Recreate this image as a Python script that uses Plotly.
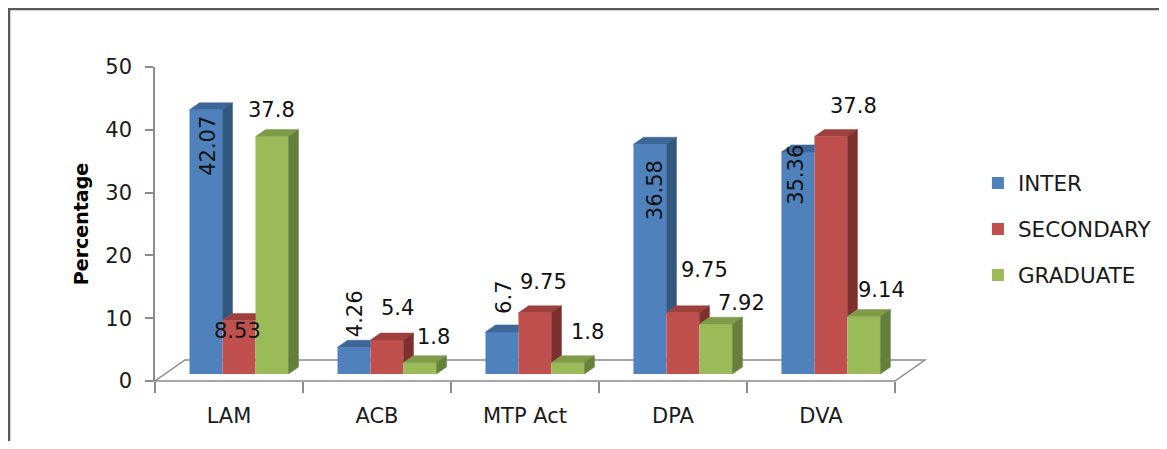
import plotly.graph_objects as go

# ---------------- data ----------------
categories = ["LAM", "ACB", "MTP Act", "DPA", "DVA"]
series_names = ["INTER", "SECONDARY", "GRADUATE"]
inter = [42.07, 4.26, 6.7, 36.58, 35.36]
secondary = [8.53, 5.4, 9.75, 9.75, 37.8]
graduate = [37.8, 1.8, 1.8, 7.92, 9.14]
y_ticks = [0, 10, 20, 30, 40, 50]

# ---------------- styles ----------------
FRONT = ["#4F81BD", "#C0504D", "#9BBB59"]
TOP = ["#3D6699", "#9E403D", "#7E9B47"]
SIDE = ["#33587F", "#7D302E", "#65803A"]
FONT = "DejaVu Sans"
AXIS_GRAY = "#8C8C8C"

# label offsets (px) relative to each bar's front-top centre: (xshift, yshift)
LABEL_OFF = [
    [(2, -36), (1, 34), (2, 35), (5, -46), (-2, -23)],
    [(-1, -11), (11, 32), (9, 31), (22, 43), (23, 31)],
    [(0, 27), (14, 26), (20, 31), (26, 21), (18, 27)],
]
LABEL_ANGLE = [-90, 0, 0]

# geometry (figure px; page has an 8px body margin)
OFF = 8
W_PX, H_PX = 1151, 433
L_M, T_M = 155 - OFF, 67 - OFF
PLOT_BOTTOM = 381 - OFF
B_M = H_PX - PLOT_BOTTOM
PX_PER_CAT = 148
XMIN, XMAX = -0.5, 4.71
YMIN, YMAX = 0, 50
plot_w = (XMAX - XMIN) * PX_PER_CAT
plot_h = PLOT_BOTTOM - T_M
R_M = W_PX - L_M - plot_w
ypx = plot_h / (YMAX - YMIN)

DX = 10 / PX_PER_CAT          # oblique depth of a bar
DY = 7 / ypx
BASE = DY                     # bars stand 1/3 deep on the floor
SX = 10 / PX_PER_CAT
BW = 33 / PX_PER_CAT          # bar width
FX = 30 / PX_PER_CAT          # floor depth
FY = 21 / ypx


def xp(x):
    return (x - XMIN) / (XMAX - XMIN)


def yp(y):
    return (y - YMIN) / (YMAX - YMIN)


def ppx(ref_px):
    return (ref_px - OFF - L_M) / plot_w


def ppy(ref_py):
    return (PLOT_BOTTOM - (ref_py - OFF)) / plot_h


values = [inter, secondary, graduate]
fig = go.Figure()

# front faces as bars
for j, name in enumerate(series_names):
    xs = [i + SX + (j - 1) * BW for i in range(len(categories))]
    fig.add_trace(go.Bar(
        x=xs, y=values[j], base=[BASE] * len(xs), width=BW,
        name=name, legendgroup=name,
        marker=dict(color=FRONT[j], line=dict(width=0)),
        hoverinfo="skip",
    ))

# top and side faces
for i in range(len(categories)):
    for j in range(3):
        v = values[j][i]
        xc = i + SX + (j - 1) * BW
        xl, xr = xc - BW / 2, xc + BW / 2
        T = v + BASE
        vn = values[j + 1][i] if j < 2 else None
        if vn is not None and vn > v:
            tx = [xl, xr, xr, xl + DX, xl]
        else:
            tx = [xl, xr, xr + DX, xl + DX, xl]
        ty = [T, T, T + DY, T + DY, T]
        fig.add_trace(go.Scatter(x=tx, y=ty, fill="toself", fillcolor=TOP[j],
                                 mode="lines", line=dict(width=0.5, color=TOP[j]),
                                 showlegend=False, hoverinfo="skip"))
        low = BASE if vn is None else vn + BASE
        if T > low:
            sx_ = [xr, xr + DX, xr + DX, xr, xr]
            sy_ = [low, low + DY, T + DY, T, low]
            fig.add_trace(go.Scatter(x=sx_, y=sy_, fill="toself", fillcolor=SIDE[j],
                                     mode="lines", line=dict(width=0.5, color=SIDE[j]),
                                     showlegend=False, hoverinfo="skip"))

# data labels
annotations = []
for j in range(3):
    for i in range(len(categories)):
        v = values[j][i]
        xc = i + SX + (j - 1) * BW
        ox, oy = LABEL_OFF[j][i]
        annotations.append(dict(
            x=xc, y=v + BASE, xref="x", yref="y", text=f"{v:g}",
            showarrow=False, xanchor="center", yanchor="middle",
            xshift=ox, yshift=oy, textangle=LABEL_ANGLE[j],
            font=dict(family=FONT, size=21, color="#111111"),
        ))

# floor and decorations
n = len(categories)
floor_pts = [(-0.5, 0), (n - 0.5, 0), (n - 0.5 + FX, FY), (-0.5 + FX, FY)]
path = "M " + " L ".join(f"{xp(a):.5f},{yp(b):.5f}" for a, b in floor_pts) + " Z"
shapes = [
    dict(type="path", xref="paper", yref="paper", path=path,
         line=dict(color=AXIS_GRAY, width=1.5), layer="below"),
    # outer chart border (top and left)
    dict(type="line", xref="paper", yref="paper",
         x0=ppx(8), x1=ppx(1170), y0=ppy(9), y1=ppy(9),
         line=dict(color="#595959", width=2.5)),
    dict(type="line", xref="paper", yref="paper",
         x0=ppx(9), x1=ppx(9), y0=ppy(8), y1=ppy(460),
         line=dict(color="#595959", width=2.5)),
]

fig.update_layout(
    width=W_PX, height=H_PX, autosize=False,
    margin=dict(l=L_M, r=R_M, t=T_M, b=B_M, pad=0, autoexpand=False),
    paper_bgcolor="white", plot_bgcolor="rgba(0,0,0,0)",
    barmode="overlay",
    font=dict(family=FONT, size=21, color="#1a1a1a"),
    showlegend=True,
    legend=dict(x=ppx(978), y=ppy(229), xanchor="left", yanchor="middle",
                font=dict(family=FONT, size=21.5, color="#1a1a1a"),
                tracegroupgap=15, traceorder="grouped",
                bgcolor="rgba(0,0,0,0)"),
    shapes=shapes,
    annotations=annotations,
)

fig.update_xaxes(
    range=[XMIN, XMAX], tickmode="array",
    tickvals=list(range(n)), ticktext=categories,
    ticks="", showline=False, showgrid=False, zeroline=False,
    tickfont=dict(family=FONT, size=21, color="#1a1a1a"),
    ticklabelstandoff=20,
    minor=dict(tickmode="array", tickvals=[k - 0.5 for k in range(n + 1)],
               ticks="outside", ticklen=11, tickcolor=AXIS_GRAY, tickwidth=1.5,
               showgrid=False),
)
fig.update_yaxes(
    range=[YMIN, YMAX], tickmode="array", tickvals=y_ticks,
    ticks="outside", ticklen=8, tickcolor=AXIS_GRAY, tickwidth=1.5,
    showline=True, linecolor=AXIS_GRAY, linewidth=1.5,
    showgrid=False, zeroline=False,
    tickfont=dict(family=FONT, size=21, color="#1a1a1a"),
    ticklabelstandoff=9,
    title=dict(text="Percentage", standoff=12,
               font=dict(family=FONT, size=19, color="#000000", weight="bold")),
)

fig.write_html("out.html")
